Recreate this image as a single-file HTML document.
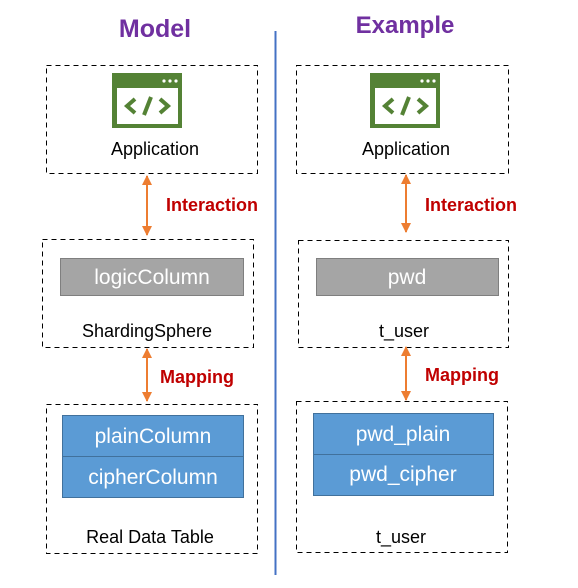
<!DOCTYPE html>
<html><head><meta charset="utf-8"><style>
html,body{margin:0;padding:0;background:#fff;width:578px;height:588px;overflow:hidden}
svg{display:block}
text{font-family:"Liberation Sans",sans-serif}
</style></head><body>
<svg width="578" height="588" viewBox="0 0 578 588" xmlns="http://www.w3.org/2000/svg">
<defs>
<g id="icon">
<rect x="0" y="0" width="70" height="55" fill="#548235"/>
<rect x="5" y="15" width="61" height="36" fill="#fff"/>
<circle cx="52" cy="8" r="1.6" fill="#fff"/><circle cx="58" cy="8" r="1.6" fill="#fff"/><circle cx="64" cy="8" r="1.6" fill="#fff"/>
<polyline points="23,26 15,33 23,40" fill="none" stroke="#548235" stroke-width="4"/>
<polyline points="48,26 56,33 48,40" fill="none" stroke="#548235" stroke-width="4"/>
<line x1="39" y1="24" x2="32" y2="42" stroke="#548235" stroke-width="4"/>
</g>
<marker id="ah" viewBox="0 0 10 10" refX="9" refY="5" markerWidth="5" markerHeight="5" orient="auto-start-reverse"><path d="M0,0 L10,5 L0,10z" fill="#ED7D31"/></marker>
</defs>
<text x="155" y="37" font-size="25" font-weight="bold" fill="#7030A0" text-anchor="middle">Model</text>
<text x="405" y="33" font-size="24" font-weight="bold" fill="#7030A0" text-anchor="middle">Example</text>
<line x1="275.5" y1="31" x2="275.5" y2="575" stroke="#4472C4" stroke-width="2"/>
<g fill="none" stroke="#000" stroke-width="1" stroke-dasharray="5,4">
<rect x="46.5" y="65.5" width="211" height="108"/>
<rect x="42.5" y="239.5" width="211" height="108"/>
<rect x="46.5" y="404.5" width="211" height="149"/>
<rect x="296.5" y="65.5" width="212" height="108"/>
<rect x="298.5" y="240.5" width="210" height="107"/>
<rect x="296.5" y="401.5" width="211" height="151"/>
</g>
<use href="#icon" x="112" y="73"/>
<use href="#icon" x="370" y="73"/>
<text x="155" y="155" font-size="18" text-anchor="middle">Application</text>
<text x="406" y="155" font-size="18" text-anchor="middle">Application</text>
<g stroke="#ED7D31" stroke-width="2" marker-start="url(#ah)" marker-end="url(#ah)">
<line x1="147" y1="176" x2="147" y2="235"/>
<line x1="147" y1="349" x2="147" y2="401"/>
<line x1="406" y1="175" x2="406" y2="232"/>
<line x1="406" y1="347" x2="406" y2="400"/>
</g>
<g font-size="18" font-weight="bold" fill="#C00000">
<text x="166" y="211">Interaction</text>
<text x="160" y="383">Mapping</text>
<text x="425" y="211">Interaction</text>
<text x="425" y="381">Mapping</text>
</g>
<rect x="60.5" y="258.5" width="183" height="37" fill="#A5A5A5" stroke="#7f7f7f"/>
<text x="152" y="284" font-size="21" fill="#fff" text-anchor="middle">logicColumn</text>
<text x="147" y="337" font-size="18" text-anchor="middle">ShardingSphere</text>
<rect x="316.5" y="258.5" width="182" height="37" fill="#A5A5A5" stroke="#7f7f7f"/>
<text x="407" y="284" font-size="21" fill="#fff" text-anchor="middle">pwd</text>
<text x="404" y="337" font-size="18" text-anchor="middle">t_user</text>
<rect x="62.5" y="415.5" width="181" height="41" fill="#5B9BD5" stroke="#41719C"/>
<rect x="62.5" y="456.5" width="181" height="41" fill="#5B9BD5" stroke="#41719C"/>
<text x="153" y="443" font-size="21" fill="#fff" text-anchor="middle">plainColumn</text>
<text x="153" y="484" font-size="21" fill="#fff" text-anchor="middle">cipherColumn</text>
<text x="150" y="543" font-size="18" text-anchor="middle">Real Data Table</text>
<rect x="313.5" y="413.5" width="180" height="41" fill="#5B9BD5" stroke="#41719C"/>
<rect x="313.5" y="454.5" width="180" height="41" fill="#5B9BD5" stroke="#41719C"/>
<text x="403" y="441" font-size="21" fill="#fff" text-anchor="middle">pwd_plain</text>
<text x="403" y="481" font-size="21" fill="#fff" text-anchor="middle">pwd_cipher</text>
<text x="401" y="543" font-size="18" text-anchor="middle">t_user</text>
</svg>
</body></html>
